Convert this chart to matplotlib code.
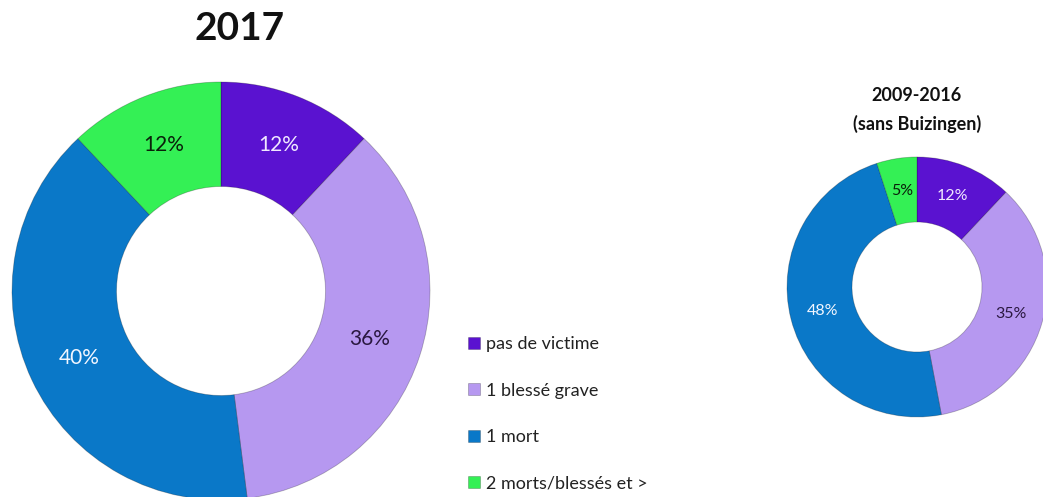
import matplotlib.pyplot as plt

plt.rcParams['font.family'] = ['Lato', 'DejaVu Sans']

categories = ['pas de victime', '1 blessé grave', '1 mort', '2 morts/blessés et >']
values_2017 = [12, 36, 40, 12]
values_0916 = [12, 35, 48, 5]
colors = ['#5a12d0', '#b698f0', '#0a78c8', '#34f055']
label_colors = ['#f0e8ff', '#2a1840', '#f2f6ff', '#0a200a']

W, H = 1043, 497
fig = plt.figure(figsize=(W / 100, H / 100), dpi=100)


def donut(cx, cy, r, values, fontsize):
    # axes placed in pixels, donut radius = 1 in data units
    ax = fig.add_axes([(cx - r) / W, (H - cy - r) / H, 2 * r / W, 2 * r / H])
    wedges, _, autotexts = ax.pie(
        values, colors=colors, startangle=90, counterclock=False, radius=1,
        autopct='%d%%', pctdistance=0.75,
        wedgeprops=dict(width=0.5, edgecolor=(0, 0, 0, 0.25), linewidth=0.6),
        textprops=dict(fontsize=fontsize))
    for t, c in zip(autotexts, label_colors):
        t.set_color(c)
    ax.set_xlim(-1, 1)
    ax.set_ylim(-1, 1)
    ax.set_aspect('equal')
    ax.axis('off')
    for w in wedges:
        w.set_clip_on(False)
    return wedges


wedges = donut(221, 291, 209, values_2017, 15)
donut(917, 287, 130, values_0916, 11.5)

fig.text(240 / W, 1 - 28 / H, '2017', ha='center', va='center',
         fontsize=28, fontweight='bold', color='#111111')
fig.text(917 / W, 1 - 110 / H, '2009-2016\n(sans Buizingen)', ha='center',
         va='center', fontsize=13, fontweight='bold', color='#111111',
         linespacing=1.75)

fig.legend(wedges, categories, loc='upper left',
           bbox_to_anchor=(452 / W, 1 - 320 / H), frameon=False,
           fontsize=13, labelspacing=1.68, handlelength=0.65,
           handleheight=0.65, handletextpad=0.35, labelcolor='#222222')

fig.savefig('out.png', dpi=100)
